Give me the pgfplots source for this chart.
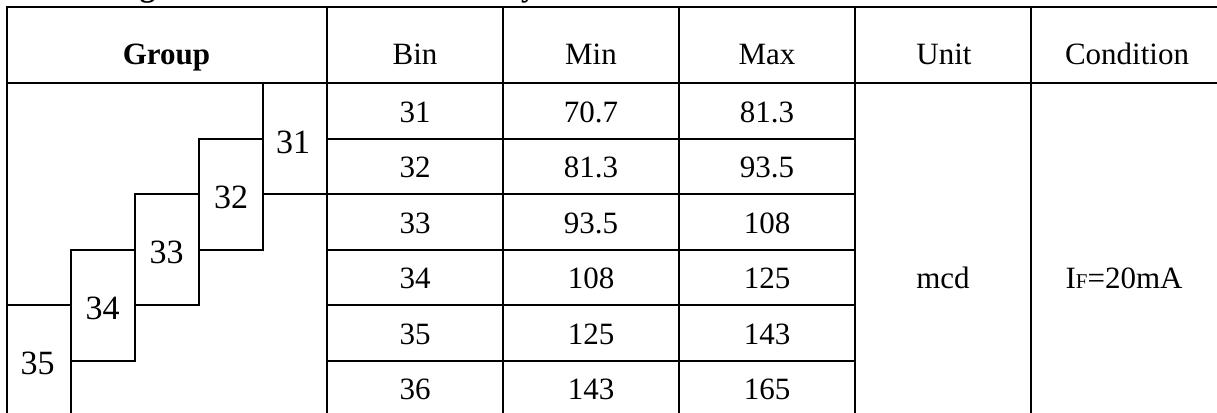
\documentclass[border=0pt]{standalone}
\usepackage{pgfplots}
\pgfplotsset{compat=1.18}
\usepackage{pgfplotstable}
\usepackage{fontspec}
\setmainfont{Liberation Serif}

% rows of the binning table: y = row centre (px from top)
\pgfplotstableread{
y bin min max
112 31 70.7 81.3
167.5 32 81.3 93.5
223 33 93.5 108
278.5 34 108 125
334 35 125 143
389.5 36 143 165
}\bintable

% staircase group labels
\pgfplotstableread{
x y lab
293 142 31
231 197 32
166.5 252.5 33
102.5 308 34
37.5 363.5 35
}\grouptable

\begin{document}
\begin{tikzpicture}
\useasboundingbox (0,0) rectangle (1217pt,412pt);
\begin{axis}[
  at={(0,0)}, anchor=south west,
  width=1217pt, height=412pt, scale only axis,
  xmin=0, xmax=1217, ymin=0, ymax=412, y dir=reverse,
  axis lines=none, clip=false,
  every axis plot/.append style={line cap=rect},
]
\pgfplotsset{tl/.style={black, line width=2pt, mark=none, forget plot}}
% outer and header lines
\addplot[tl] coordinates {(7,7) (1230,7)};
\addplot[tl] coordinates {(7,83) (1230,83)};
% row lines for Bin / Min / Max
\addplot[tl] coordinates {(327,139) (855,139)};
\addplot[tl] coordinates {(327,194) (855,194)};
\addplot[tl] coordinates {(327,250) (855,250)};
\addplot[tl] coordinates {(327,305) (855,305)};
\addplot[tl] coordinates {(327,361) (855,361)};
% column lines
\addplot[tl] coordinates {(7,7) (7,420)};
\addplot[tl] coordinates {(327,7) (327,420)};
\addplot[tl] coordinates {(503,7) (503,420)};
\addplot[tl] coordinates {(679,7) (679,420)};
\addplot[tl] coordinates {(855,7) (855,420)};
\addplot[tl] coordinates {(1031,7) (1031,420)};
% staircase
\addplot[tl] coordinates {(263,83) (263,250)};
\addplot[tl] coordinates {(263,194) (327,194)};
\addplot[tl] coordinates {(199,139) (263,139)};
\addplot[tl] coordinates {(199,139) (199,305)};
\addplot[tl] coordinates {(199,250) (263,250)};
\addplot[tl] coordinates {(135,194) (199,194)};
\addplot[tl] coordinates {(135,194) (135,361)};
\addplot[tl] coordinates {(135,305) (199,305)};
\addplot[tl] coordinates {(71,250) (135,250)};
\addplot[tl] coordinates {(71,250) (71,420)};
\addplot[tl] coordinates {(71,361) (135,361)};
\addplot[tl] coordinates {(7,305) (71,305)};

% cell values
\pgfplotsset{cellv/.style={only marks, mark=none, forget plot, nodes near coords, point meta=explicit symbolic,
  every node near coord/.style={anchor=center, inner sep=0pt, font=\fontsize{31}{36}\selectfont}}}
\addplot[cellv] table[x expr=415, y=y, meta=bin] {\bintable};
\addplot[cellv] table[x expr=591, y=y, meta=min] {\bintable};
\addplot[cellv] table[x expr=767, y=y, meta=max] {\bintable};
\addplot[only marks, mark=none, forget plot, nodes near coords, point meta=explicit symbolic,
  every node near coord/.style={anchor=center, inner sep=0pt, font=\fontsize{34}{40}\selectfont}]
  table[x=x, y=y, meta=lab] {\grouptable};

% header and merged cells
\node[font=\fontsize{31}{36}\selectfont\bfseries, anchor=base] at (axis cs:166.5,64) {Group};
\node[font=\fontsize{31}{36}\selectfont, anchor=base] at (axis cs:415,64) {Bin};
\node[font=\fontsize{31}{36}\selectfont, anchor=base] at (axis cs:591,64) {Min};
\node[font=\fontsize{31}{36}\selectfont, anchor=base] at (axis cs:767,64) {Max};
\node[font=\fontsize{31}{36}\selectfont, anchor=base] at (axis cs:944,64) {Unit};
\node[font=\fontsize{31}{36}\selectfont, anchor=base] at (axis cs:1127,64) {Condition};
\node[font=\fontsize{31}{36}\selectfont, anchor=center, inner sep=0pt] at (axis cs:943,278) {mcd};
\node[font=\fontsize{31}{36}\selectfont, anchor=base, inner sep=0pt] at (axis cs:1124,288.5) {I{\fontsize{21}{24}\selectfont F}=20mA};
% clipped title above the table
\node[font=\fontsize{31}{36}\selectfont\bfseries, anchor=base west, inner sep=0pt] at (axis cs:50,-3) {Binning Table of Luminous Intensity};
\end{axis}
\end{tikzpicture}
\end{document}
